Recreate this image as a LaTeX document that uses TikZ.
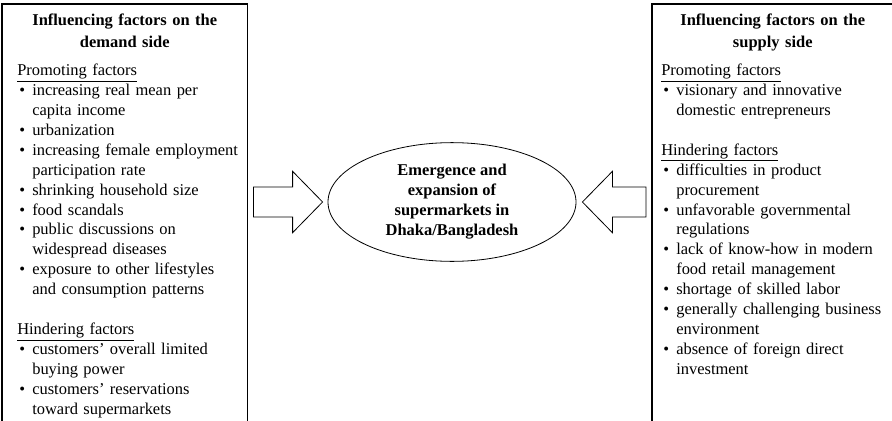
\documentclass[tikz,border=0pt]{standalone}
\usepackage{fontspec}
\setmainfont{Liberation Serif}
\usepackage{tikz}
\usetikzlibrary{shapes.geometric, calc}
\setlength{\parindent}{0pt}

\newcommand{\fitem}[1]{{\par\advance\leftskip by 11.25pt\noindent\llap{\makebox[11.25pt][l]{\hspace{1.5pt}\textbullet}}#1\par}}
\newcommand{\fatarrow}[2]{%
  \draw[fat] let \p1=(#1), \p2=(#2), \n1={sign(\x2-\x1)} in
    (\x1,\y1+11.25pt) -- (\x2-\n1*22.5pt,\y1+11.25pt) -- (\x2-\n1*22.5pt,\y1+23pt)
    -- (\x2,\y2) -- (\x2-\n1*22.5pt,\y1-23pt) -- (\x2-\n1*22.5pt,\y1-11.25pt)
    -- (\x1,\y1-11.25pt) -- cycle;}

\begin{document}
\begin{tikzpicture}[
    x=0.75pt, y=-0.75pt,
    side/.style={anchor=north west, text width=#1, align=left, inner ysep=7.3pt,
                 font=\fontsize{12.35}{14.95}\selectfont},
    frame/.style={draw, line width=0.9pt},
    fat/.style={draw, line width=0.6pt, fill=white},
    core/.style={ellipse, draw, line width=0.6pt, minimum width=186pt, minimum height=87pt,
                 align=center, font=\fontsize{12.35}{15}\selectfont\bfseries}
  ]
    \useasboundingbox (0,0) rectangle (892,421);
    \clip (0,0) rectangle (892,421);

    \node[side=176.25pt, inner xsep=3.75pt] (demand) at (2,4) {\leftskip=7.5pt
      {\centering\fontsize{12.35}{16.5}\selectfont\bfseries Influencing factors on the\\ demand side\par}
      \vspace{6pt}
      \underline{Promoting factors}
      \fitem{increasing real mean per\\capita income}
      \fitem{urbanization}
      \fitem{increasing female employment\\participation rate}
      \fitem{shrinking household size}
      \fitem{food scandals}
      \fitem{public discussions on\\widespread diseases}
      \fitem{exposure to other lifestyles\\and consumption patterns}
      \vspace{14.95pt}
      \underline{Hindering factors}
      \fitem{customers’ overall limited\\buying power}
      \fitem{customers’ reservations\\toward supermarkets}
    };
    \node[side=167.25pt, inner xsep=6.75pt] (supply) at (652,4) {
      {\centering\fontsize{12.35}{16.5}\selectfont\bfseries Influencing factors on the\\ supply side\par}
      \vspace{6pt}
      \underline{Promoting factors}
      \fitem{visionary and innovative\\domestic entrepreneurs}
      \vspace{14.95pt}
      \underline{Hindering factors}
      \fitem{difficulties in product\\procurement}
      \fitem{unfavorable governmental\\regulations}
      \fitem{lack of know-how in modern\\food retail management}
      \fitem{shortage of skilled labor}
      \fitem{generally challenging business\\environment}
      \fitem{absence of foreign direct\\investment}
    };
    \draw[frame] (demand.north west) rectangle (demand.east |- 0,440);
    \draw[frame] (supply.north west) rectangle (supply.east |- 0,440);

    \node[core] (emerge) at (452,202) {Emergence and\\expansion of\\supermarkets in\\Dhaka/Bangladesh};

    \coordinate (lt) at ($(demand.east |- emerge.west)+(4.5pt,0)$);
    \coordinate (ltip) at ($(emerge.west)+(-3.75pt,0)$);
    \coordinate (rt) at ($(supply.west |- emerge.east)+(-4.5pt,0)$);
    \coordinate (rtip) at ($(emerge.east)+(4.5pt,0)$);
    \fatarrow{lt}{ltip}
    \fatarrow{rt}{rtip}
  \end{tikzpicture}
\end{document}
